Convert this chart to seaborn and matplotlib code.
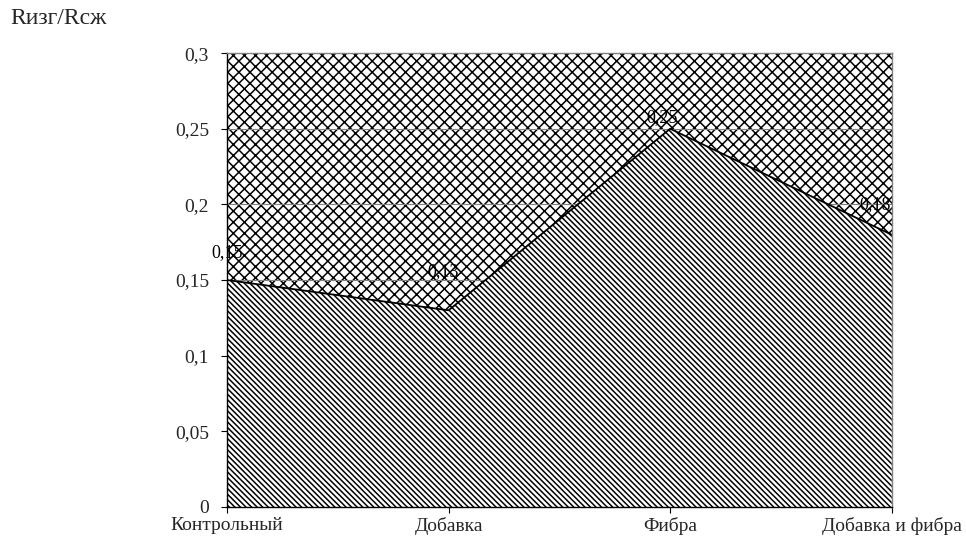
import matplotlib
matplotlib.use("Agg")
import matplotlib.pyplot as plt
import seaborn as sns
import pandas as pd
import numpy as np

categories = ["Контрольный", "Добавка", "Фибра", "Добавка и фибра"]
ratio = [0.15, 0.13, 0.25, 0.18]
value_labels = ["0,15", "0,13", "0,25", "0,18"]
y_ticks = [0, 0.05, 0.1, 0.15, 0.2, 0.25, 0.3]
y_tick_labels = ["0", "0,05", "0,1", "0,15", "0,2", "0,25", "0,3"]
y_title = "Rизг/Rсж"

sns.set_theme(style="white")
plt.rcParams["font.family"] = ["Liberation Serif", "DejaVu Serif"]
plt.rcParams["hatch.linewidth"] = 1.1

df = pd.DataFrame({"x": np.arange(len(categories)), "y": ratio})

fig = plt.figure(figsize=(9.66, 5.42), dpi=100)
ax = fig.add_axes([0.235, 0.0646, 0.688, 0.8374])
ax.set_xlim(0, len(categories) - 1)
ax.set_ylim(0, 0.3)

# plot-area pattern (behind the gridlines)
ax.fill_between(df["x"], 0, 0.3, facecolor="white", edgecolor="black",
                hatch="xxx", linewidth=0, zorder=0)
for t in y_ticks[1:-1]:
    ax.axhline(t, color="#808080", linewidth=0.8, zorder=1)

# area series
ax.fill_between(df["x"], 0, df["y"], facecolor="white", edgecolor="black",
                hatch="\\\\\\\\\\\\", linewidth=0, zorder=2)
sns.lineplot(data=df, x="x", y="y", color="black", linewidth=1.3, ax=ax,
             zorder=3)

offsets = [(0, 20), (-4, 28), (-6, 8), (-12, 22)]
for xi, yi, lab, off in zip(df["x"], df["y"], value_labels, offsets):
    ax.annotate(lab, (xi, yi), xytext=off, textcoords="offset points",
                ha="center", va="center", fontsize=13, color="black",
                zorder=4, annotation_clip=False)

ax.set_xticks(df["x"])
ax.set_xticklabels(categories, fontsize=14)
ax.set_yticks(y_ticks)
ax.set_yticklabels(y_tick_labels, fontsize=14)
ax.tick_params(axis="both", direction="out", length=4, width=0.8,
               color="black", bottom=True, left=True)
ax.tick_params(axis="y", pad=9)
ax.tick_params(axis="x", pad=3.5)
ax.set_xlabel("")
ax.set_ylabel("")
ax.grid(False)

for side in ["left", "bottom"]:
    ax.spines[side].set_color("black")
    ax.spines[side].set_linewidth(1.0)
for side in ["top", "right"]:
    ax.spines[side].set_color("#808080")
    ax.spines[side].set_linewidth(1.0)
for s in ax.spines.values():
    s.set_zorder(5)

fig.text(10 / 966, 1 - 18 / 542, y_title, fontsize=17, ha="left",
         va="center")

fig.savefig("out.png", dpi=100)
